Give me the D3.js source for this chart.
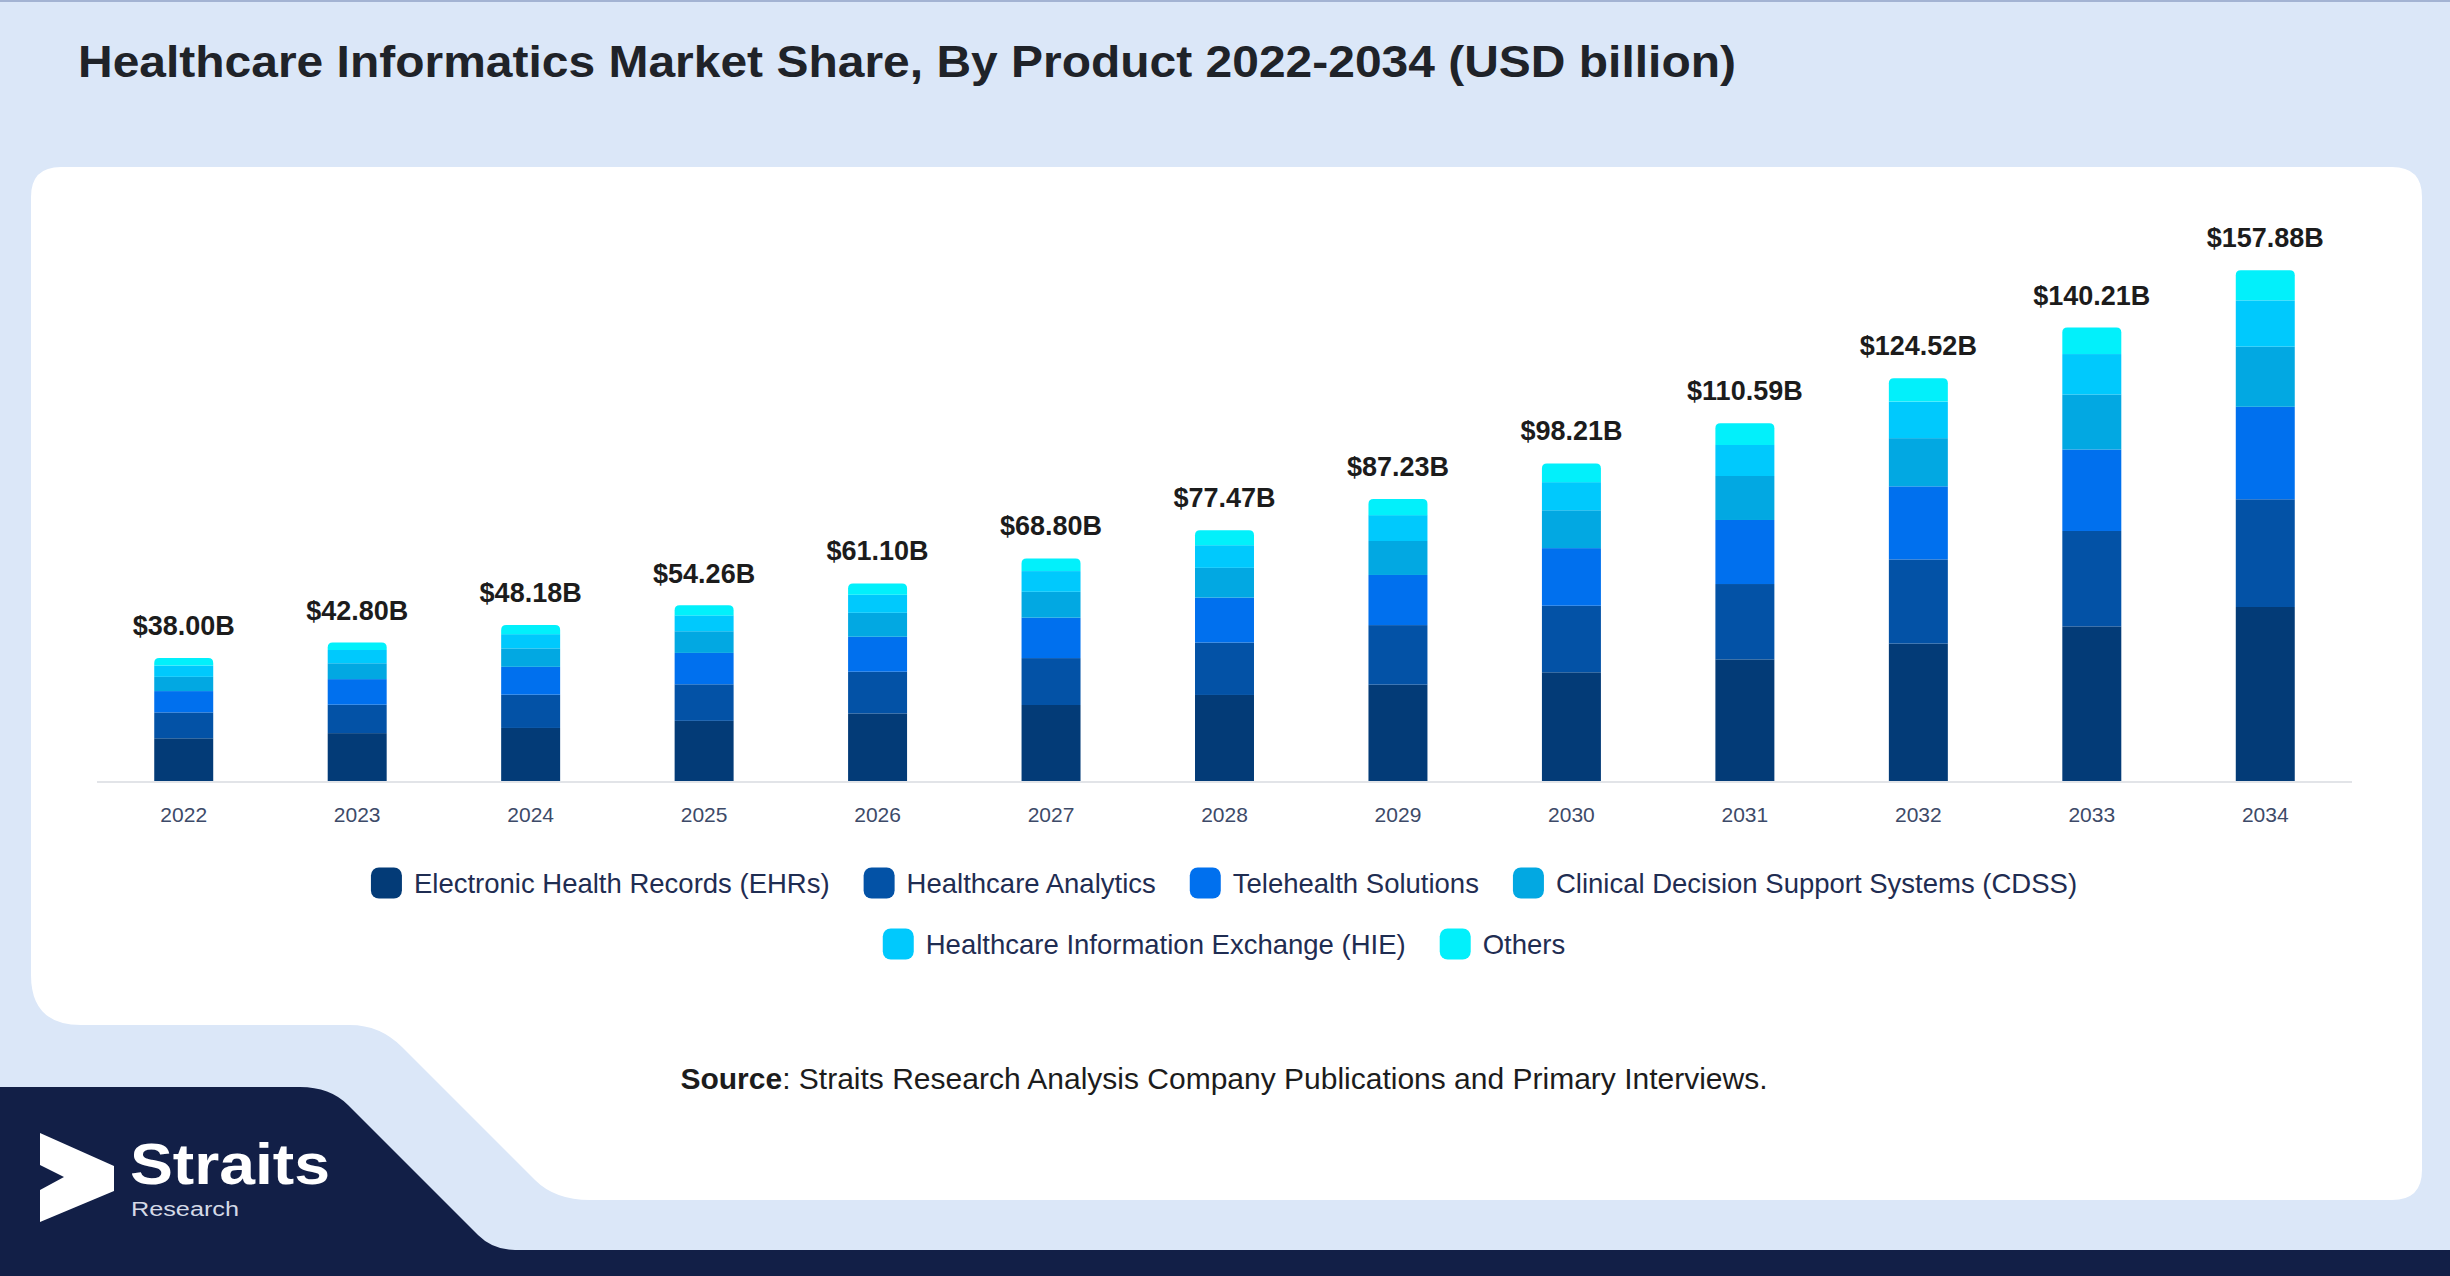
<!DOCTYPE html>
<html>
<head>
<meta charset="utf-8">
<script src="https://cdn.jsdelivr.net/npm/d3@7"></script>
<style>
  html, body { margin: 0; padding: 0; background: #dbe7f8; }
  svg { display: block; font-family: "Liberation Sans", Arial, sans-serif; }
</style>
</head>
<body>
<div id="wrapper"></div>
<script>
// 1. data
const years = ["2022", "2023", "2024", "2025", "2026", "2027", "2028", "2029", "2030", "2031", "2032", "2033", "2034"];
const totals = [38.00, 42.80, 48.18, 54.26, 61.10, 68.80, 77.47, 87.23, 98.21, 110.59, 124.52, 140.21, 157.88];

const ehr        = [13.2, 14.8, 16.4, 18.6, 20.9, 23.5, 26.6, 29.8, 33.6, 37.6, 42.5, 47.8, 53.8];
const analytics  = [8.0, 8.8, 10.3, 11.3, 12.9, 14.5, 16.2, 18.4, 20.6, 23.3, 26.0, 29.5, 33.3];
const telehealth = [6.6, 7.9, 8.6, 9.7, 10.8, 12.5, 13.9, 15.5, 17.8, 19.8, 22.6, 25.2, 28.6];
const cdss       = [4.4, 4.9, 5.7, 6.7, 7.4, 8.0, 9.2, 10.5, 11.7, 13.6, 14.9, 17.0, 18.6];
const hie        = [3.5, 4.1, 4.4, 4.9, 5.6, 6.4, 7.0, 8.0, 8.7, 9.6, 11.3, 12.5, 14.3];
const others     = [2.3, 2.3, 2.8, 3.1, 3.5, 3.9, 4.6, 5.0, 5.8, 6.7, 7.2, 8.2, 9.3];

const seriesNames = [
  "Electronic Health Records (EHRs)",
  "Healthcare Analytics",
  "Telehealth Solutions",
  "Clinical Decision Support Systems (CDSS)",
  "Healthcare Information Exchange (HIE)",
  "Others"
];
const seriesValues = [ehr, analytics, telehealth, cdss, hie, others];
const seriesColors = ["#033b77", "#0352a6", "#0070ee", "#02a8e2", "#00c9fd", "#02f0fb"];
const legendRows = [[0, 1, 2, 3], [4, 5]];

const rows = years.map((y, i) => {
  const r = { year: y, total: totals[i] };
  seriesNames.forEach((s, k) => r[s] = seriesValues[k][i]);
  return r;
});

// 2. dimensions
const width = 2450, height = 1276;
const plot = { left: 97, right: 2352, top: 263.5, bottom: 781 };

const svg = d3.select("#wrapper").append("svg")
  .attr("width", width)
  .attr("height", height);

// background + panels
svg.append("rect").attr("width", width).attr("height", height).attr("fill", "#dbe7f8");
svg.append("rect").attr("width", width).attr("height", 2).attr("fill", "#a3b3d3");

svg.append("path")
  .attr("fill", "#ffffff")
  .attr("d", "M 61,167 H 2392 Q 2422,167 2422,197 V 1170 Q 2422,1200 2392,1200 H 590 Q 555,1200 535,1180 L 402,1047 Q 380,1025 350,1025 H 81 Q 31,1025 31,975 V 197 Q 31,167 61,167 Z");

svg.append("path")
  .attr("fill", "#121f47")
  .attr("d", "M 0,1087 H 300 Q 330,1087 348,1105 L 478,1235 Q 493,1250 515,1250 H 2450 V 1276 H 0 Z");

// title
svg.append("text")
  .attr("x", 78)
  .attr("y", 77)
  .attr("font-size", 45)
  .attr("font-weight", "bold")
  .attr("fill", "#1f2329")
  .attr("textLength", 1658)
  .attr("lengthAdjust", "spacingAndGlyphs")
  .text("Healthcare Informatics Market Share, By Product 2022-2034 (USD billion)");

// 3. scales
const x = d3.scaleBand()
  .domain(years)
  .range([plot.left, plot.right])
  .paddingInner(0.66)
  .paddingOuter(0.33);

const y = d3.scaleLinear()
  .domain([0, 160])
  .range([plot.bottom, plot.top]);

const stacked = d3.stack().keys(seriesNames)(rows);

// 4. bars
const bars = svg.append("g");
stacked.forEach((layer, k) => {
  const isTop = k === stacked.length - 1;
  const g = bars.append("g").attr("fill", seriesColors[k]);
  if (!isTop) {
    g.selectAll("rect")
      .data(layer)
      .join("rect")
      .attr("x", d => x(d.data.year))
      .attr("y", d => y(d[1]))
      .attr("width", x.bandwidth())
      .attr("height", d => y(d[0]) - y(d[1]));
  } else {
    const r = 5;
    g.selectAll("path")
      .data(layer)
      .join("path")
      .attr("d", d => {
        const x0 = x(d.data.year), x1 = x0 + x.bandwidth();
        const y0 = y(d[0]), y1 = y(d[1]);
        return `M${x0},${y0} V${y1 + r} Q${x0},${y1} ${x0 + r},${y1} H${x1 - r} Q${x1},${y1} ${x1},${y1 + r} V${y0} Z`;
      });
  }
});

// axis line
svg.append("line")
  .attr("x1", plot.left).attr("x2", plot.right)
  .attr("y1", plot.bottom + 1).attr("y2", plot.bottom + 1)
  .attr("stroke", "#e2e4e8")
  .attr("stroke-width", 2);

// x labels
svg.append("g").selectAll("text")
  .data(years)
  .join("text")
  .attr("x", d => x(d) + x.bandwidth() / 2)
  .attr("y", 822)
  .attr("text-anchor", "middle")
  .attr("font-size", 21)
  .attr("fill", "#3d4a68")
  .text(d => d);

// total labels
svg.append("g").selectAll("text")
  .data(rows)
  .join("text")
  .attr("x", d => x(d.year) + x.bandwidth() / 2)
  .attr("y", d => y(d.total) - 23)
  .attr("text-anchor", "middle")
  .attr("font-size", 27)
  .attr("font-weight", "bold")
  .attr("fill", "#1c1c1c")
  .text(d => `$${d3.format(".2f")(d.total)}B`);

// 5. legend
const legendY = [883, 944];
const markerW = 31, markerH = 31, textGap = 12, itemGap = 34;
legendRows.forEach((row, ri) => {
  const g = svg.append("g");
  let cursor = 0;
  row.forEach(k => {
    const item = g.append("g").attr("transform", `translate(${cursor},0)`);
    item.append("rect")
      .attr("x", 0).attr("y", -markerH / 2)
      .attr("width", markerW).attr("height", markerH)
      .attr("rx", 8)
      .attr("fill", seriesColors[k]);
    const t = item.append("text")
      .attr("x", markerW + textGap)
      .attr("y", 9.5)
      .attr("font-size", 27.5)
      .attr("fill", "#1f2d52")
      .text(seriesNames[k]);
    cursor += markerW + textGap + t.node().getComputedTextLength() + itemGap;
  });
  const rowW = cursor - itemGap;
  g.attr("transform", `translate(${1224 - rowW / 2},${legendY[ri]})`);
});

// source
const source = svg.append("text")
  .attr("x", 1224)
  .attr("y", 1089)
  .attr("text-anchor", "middle")
  .attr("font-size", 30)
  .attr("fill", "#1c1c1c");
source.append("tspan").attr("font-weight", "bold").text("Source");
source.append("tspan").text(": Straits Research Analysis Company Publications and Primary Interviews.");

// logo
svg.append("path")
  .attr("fill", "#ffffff")
  .attr("d", "M40,1133 L114,1166 L114,1191 L40,1222 L40,1190 L64,1177 L40,1165 Z");
svg.append("text")
  .attr("x", 130)
  .attr("y", 1184)
  .attr("font-size", 58)
  .attr("font-weight", "bold")
  .attr("fill", "#ffffff")
  .attr("textLength", 200)
  .attr("lengthAdjust", "spacingAndGlyphs")
  .text("Straits");
svg.append("text")
  .attr("x", 131)
  .attr("y", 1216)
  .attr("font-size", 20)
  .attr("fill", "#d4d9e6")
  .attr("textLength", 108)
  .attr("lengthAdjust", "spacingAndGlyphs")
  .text("Research");
</script>
</body>
</html>
